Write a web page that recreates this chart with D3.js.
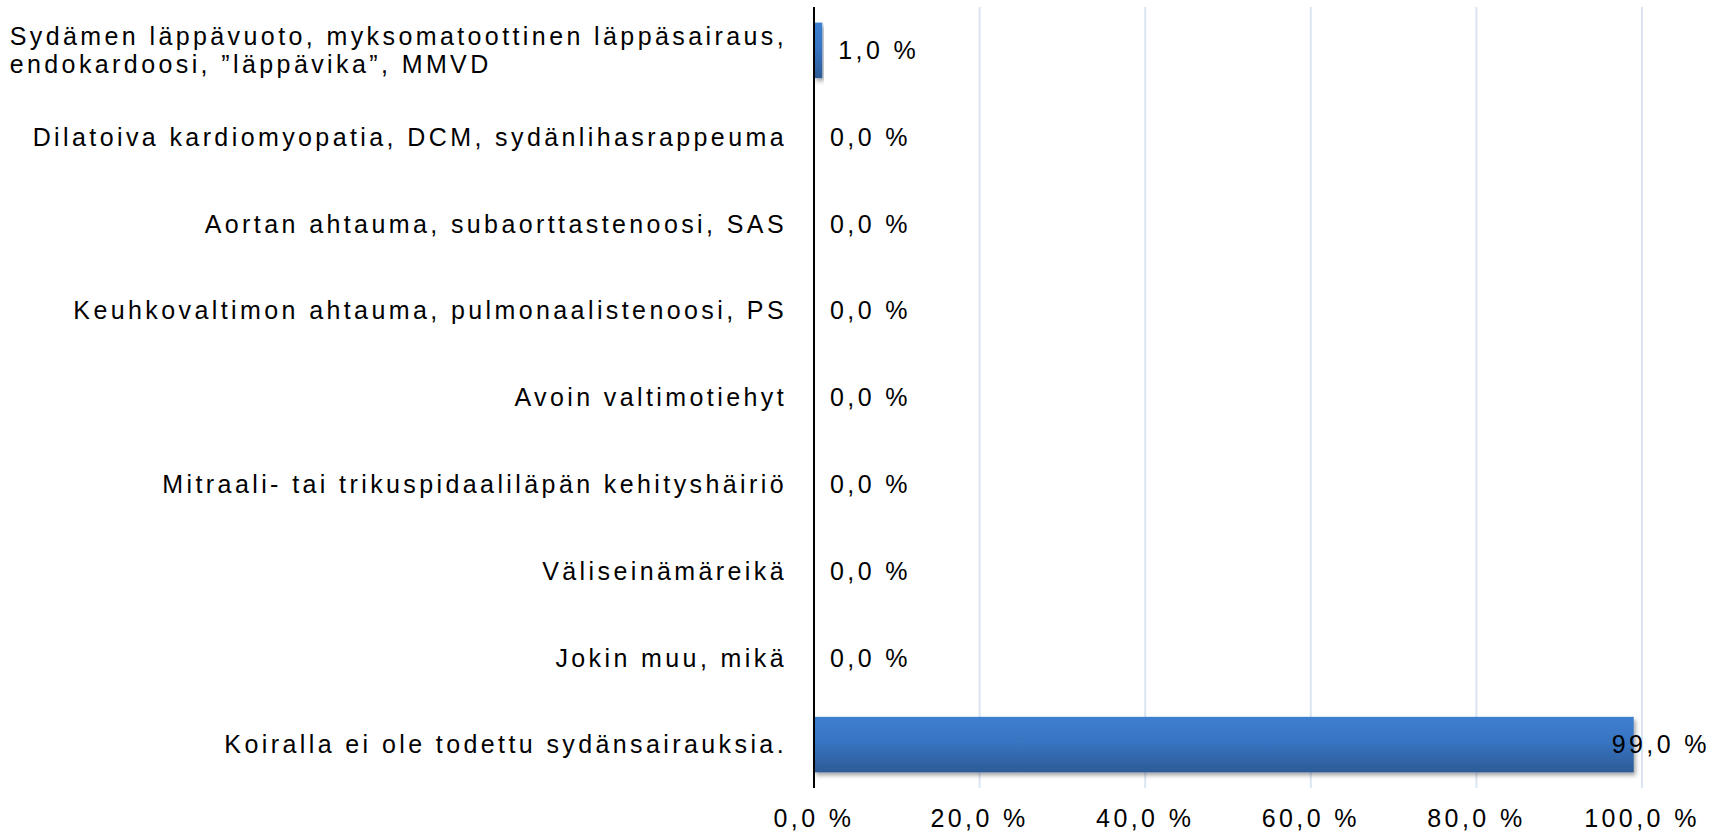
<!DOCTYPE html>
<html><head><meta charset="utf-8">
<script src="https://cdn.jsdelivr.net/npm/d3@7"></script>
<style>
body{margin:0;background:#fff;}
text{font-family:"Liberation Sans",Arial,sans-serif;fill:#000;}
</style></head>
<body>
<svg id="chart" width="1727" height="835"></svg>
<script>
const categories = [
  ["Sydämen läppävuoto, myksomatoottinen läppäsairaus,", "endokardoosi, ”läppävika”, MMVD"],
  ["Dilatoiva kardiomyopatia, DCM, sydänlihasrappeuma"],
  ["Aortan ahtauma, subaorttastenoosi, SAS"],
  ["Keuhkovaltimon ahtauma, pulmonaalistenoosi, PS"],
  ["Avoin valtimotiehyt"],
  ["Mitraali- tai trikuspidaaliläpän kehityshäiriö"],
  ["Väliseinämäreikä"],
  ["Jokin muu, mikä"],
  ["Koiralla ei ole todettu sydänsairauksia."]
];
const values = [1.0, 0.0, 0.0, 0.0, 0.0, 0.0, 0.0, 0.0, 99.0];
const ticks = [0, 20, 40, 60, 80, 100];
const tickLabels = ["0,0 %", "20,0 %", "40,0 %", "60,0 %", "80,0 %", "100,0 %"];

(function(){
const fmt = v => v.toFixed(1).replace(".", ",") + " %";

const svg = d3.select("#chart");
const pLeft = 814, pRight = 1642, pTop = 7, pBottom = 788;
const x = d3.scaleLinear().domain([0, 100]).range([pLeft, pRight]);
const y = d3.scaleBand().domain(d3.range(categories.length)).range([pTop, pBottom]).paddingInner(0.36).paddingOuter(0.18);

const defs = svg.append("defs");
const g = defs.append("linearGradient").attr("id", "barGrad").attr("x1", 0).attr("y1", 0).attr("x2", 0).attr("y2", 1);
g.append("stop").attr("offset", "0%").attr("stop-color", "#3d7fd0");
g.append("stop").attr("offset", "45%").attr("stop-color", "#3874c2");
g.append("stop").attr("offset", "100%").attr("stop-color", "#2c5b96");
const f = defs.append("filter").attr("id", "shadow").attr("x", "-10%").attr("y", "-20%").attr("width", "130%").attr("height", "160%");
f.append("feDropShadow").attr("dx", 2).attr("dy", 3).attr("stdDeviation", 2).attr("flood-color", "#000").attr("flood-opacity", 0.35);

// gridlines
svg.append("g").selectAll("line").data(ticks.slice(1)).join("line")
  .attr("x1", d => x(d)).attr("x2", d => x(d))
  .attr("y1", pTop).attr("y2", pBottom)
  .attr("stroke", "#dbe5f1").attr("stroke-width", 2);

// bars
svg.append("g").selectAll("rect").data(values.map((v, i) => ({v, i})).filter(d => d.v > 0)).join("rect")
  .attr("x", x(0)).attr("y", d => y(d.i))
  .attr("width", d => x(d.v) - x(0))
  .attr("height", y.bandwidth())
  .attr("fill", "url(#barGrad)")
  .attr("filter", "url(#shadow)");

// axis line
svg.append("line").attr("x1", pLeft).attr("x2", pLeft).attr("y1", pTop).attr("y2", pBottom)
  .attr("stroke", "#000").attr("stroke-width", 2);

// category labels
const fs = 25, ls = 3.4;
const catG = svg.append("g");
categories.forEach((lines, i) => {
  const cy = y(i) + y.bandwidth() / 2;
  const lh = 28;
  const t = catG.append("text").attr("text-anchor", "start")
    .attr("font-size", fs).attr("letter-spacing", ls);
  const spans = lines.map((ln, j) =>
    t.append("tspan").attr("y", cy + (j - (lines.length - 1) / 2) * lh).attr("dy", "0.35em").text(ln));
  const maxW = d3.max(spans, s => s.node().getComputedTextLength());
  spans.forEach(s => s.attr("x", 787 - maxW));
});

// value labels
const valG = svg.append("g");
values.forEach((v, i) => {
  const cy = y(i) + y.bandwidth() / 2;
  const t = valG.append("text").attr("font-size", fs).attr("letter-spacing", ls)
    .attr("y", cy).attr("dy", "0.35em").text(fmt(v));
  const w = t.node().getComputedTextLength();
  const xx = Math.min(x(v) + 16, 1710 - w);
  t.attr("x", xx);
});

// tick labels
svg.append("g").selectAll("text").data(ticks).join("text")
  .attr("x", d => x(d)).attr("y", 818).attr("dy", "0.35em")
  .attr("text-anchor", "middle").attr("font-size", fs).attr("letter-spacing", ls)
  .text((d, i) => tickLabels[i]);
})();
</script>
</body></html>
